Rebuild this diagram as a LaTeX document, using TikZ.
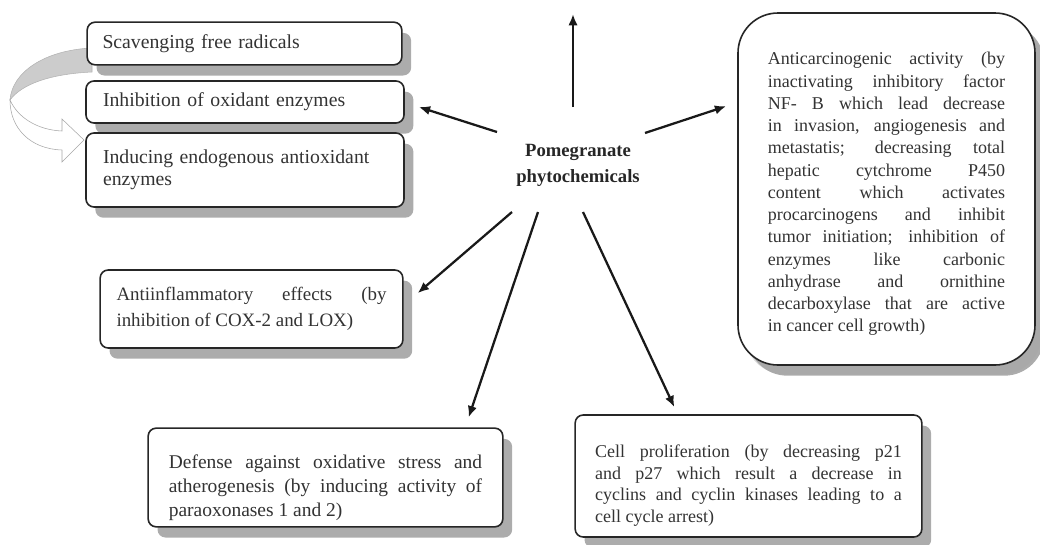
\documentclass[tikz,border=0pt]{standalone}
\usepackage{fontspec}
\setmainfont{Liberation Serif}
\usetikzlibrary{positioning,shapes,shadows,arrows,arrows.meta,calc}

\tolerance=10000
\hyphenpenalty=10000

\tikzset{
  effect/.style={draw=black!85, line width=1.2pt, fill=white, rounded corners=6pt,
    drop shadow={shadow xshift=7pt, shadow yshift=-8pt, fill=black!65, opacity=0.5},
    text=black!80, inner sep=0pt},
  small/.style={font=\fontsize{14.8pt}{16.3pt}\selectfont, align=left, text width=213pt},
  arr/.style={line width=1.7pt, black!90, -{Latex[length=8.5pt,width=7pt]}},
}

\begin{document}
\begin{tikzpicture}[x=0.75pt,y=-0.75pt]
    \useasboundingbox (0,0) rectangle (1040,544);

    % zavita puscica
    \filldraw[gray!60, fill=gray!40] (92,48) .. controls (45,50) and (12,72) .. (10,100)
        .. controls (22,84) and (50,74) .. (92,72) -- cycle;
    \filldraw[gray!70, fill=white] (10,100) .. controls (18,118) and (38,130) .. (62,131)
        -- (62,119) -- (84,140) -- (62,162) -- (62,150)
        .. controls (30,149) and (10,128) .. (10,100) -- cycle;

    % levi okvirji
    \node[effect, small, minimum width=236pt, minimum height=32pt] (scav) at (244.5,43.5)
        {Scavenging free radicals};
    \node[effect, small, minimum width=238.5pt, minimum height=31.5pt] (inh) at (245,102)
        {Inhibition of oxidant enzymes};
    \node[effect, small, minimum width=238.5pt, minimum height=55.5pt] (ind) at (245,170)
        {Inducing endogenous antioxidant\\ enzymes};

    % ostali okvirji
    \node[effect, minimum width=227pt, minimum height=58.5pt, text width=202.5pt, align=justify,
        font=\fontsize{14.2pt}{20pt}\selectfont] (afx) at (251.5,309)
        {Antiinflammatory effects (by\linebreak inhibition of COX-2 and LOX)};
    \node[effect, text height=25pt, minimum width=266pt, minimum height=74pt, text width=235pt, align=justify,
        font=\fontsize{14.6pt}{18pt}\selectfont] (def) at (325.5,477.5)
        {Defense against oxidative stress and\linebreak atherogenesis (by inducing activity of\linebreak paraoxonases 1 and 2)};
    \node[effect, text height=24pt, minimum width=260pt, minimum height=91.5pt, text width=230pt, align=justify,
        font=\fontsize{13.5pt}{16.3pt}\selectfont] (cel) at (748.5,476)
        {Cell proliferation (by decreasing p21\linebreak and p27 which result a decrease in\linebreak cyclins and cyclin kinases leading to a\linebreak cell cycle arrest)};
    \node[effect, text height=17pt, rounded corners=30pt, minimum width=222.75pt, minimum height=264pt, text width=178pt,
        align=justify, font=\fontsize{13.5pt}{16.7pt}\selectfont,
        drop shadow={shadow xshift=5pt, shadow yshift=-7pt, fill=black!35, opacity=0.4}] (anti) at (886.5,189)
        {Anticarcinogenic activity (by\linebreak inactivating inhibitory factor\linebreak NF- B which lead decrease\linebreak
         in invasion, angiogenesis and\linebreak metastatis; decreasing total\linebreak hepatic cytchrome P450\linebreak
         content which activates\linebreak procarcinogens and inhibit\linebreak tumor initiation; inhibition of\linebreak
         enzymes like carbonic\linebreak anhydrase and ornithine\linebreak decarboxylase that are active\linebreak
         in cancer cell growth)};

    % sredina
    \node[align=center, text=black!85, font=\fontsize{14pt}{19.5pt}\selectfont\bfseries] (pg) at (578,165)
        {Pomegranate\\ phytochemicals};

    % puscice
    \coordinate (up) at (573,14);
    \draw[arr] ([shift={(-5,-58)}]pg.center) -- (up);
    \draw[arr] ([shift={(-81,-33)}]pg.center) -- ([shift={(14,5)}]inh.east);
    \draw[arr] ([shift={(67,-32)}]pg.center) -- ([shift={(-11,94)}]anti.north west);
    \draw[arr] ([shift={(-66,47)}]pg.center) -- ([shift={(14,24)}]afx.north east);
    \draw[arr] ([shift={(-40,47)}]pg.center) -- ([shift={(-35,-10)}]def.north east);
    \draw[arr] ([shift={(5,47)}]pg.center) -- ([shift={(100,-7)}]cel.north west);
\end{tikzpicture}
\end{document}
